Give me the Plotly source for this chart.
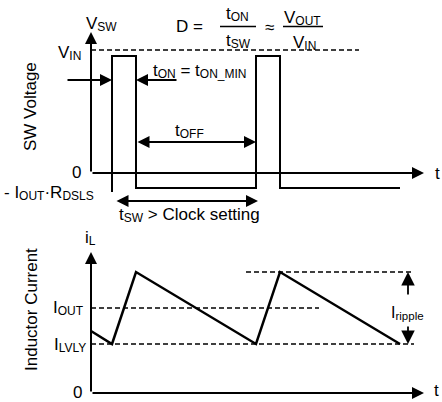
import plotly.graph_objects as go

W, H = 442, 402

# ---- data (time units: origin at the vertical axes) ----
T_AXIS_END = 333            # end of the time axes (arrow tip)
# switch-node voltage waveform (voltage units, 0 = ground)
sw_t = [21, 21, 45, 45, 165, 165, 189, 189, 309]
sw_v = [-19, 117, 117, -15, -15, 117, 117, -15, -15]
V_IN = 123
V_AXIS_TOP = 141
# inductor current waveform (current units, 0 = zero current)
il_t = [0, 21, 45, 165, 189, 309]
il_i = [62, 49, 121, 49, 121, 49]
I_OUT = 85
I_LVLY = 49
I_PEAK = 121
I_AXIS_TOP = 141
# extents of the dashed reference lines (time)
vin_line_t = [0, 268]
iout_line_t = [0, 228]
ilvly_line_t = [0, 323]
ipeak_line_t = [155, 320]
# dimension arrows
t_on_left_t = [-25, 21]      # tail, tip
t_on_right_t = [87, 45]      # tail, tip
t_on_level = 93
t_off_t = [45, 165]
t_off_level = 31
t_sw_t = [24, 167]
t_sw_level = -28
ripple_t = 317
ripple_top = [97, 121]       # tail, tip
ripple_bot = [68, 49]        # tail, tip

# pixel helpers for text placement
X0, Y0V, Y0I = 91, 173, 393
def tx(px):
    return px - X0
def vy(py):
    return Y0V - py

FONT = "Liberation Sans, Arial, sans-serif"
BLACK = "#000000"
FS = 17

def sub(s, size=12):
    return f'<span style="font-size:{size}px;baseline-shift:-2px">{s}</span>'

fig = go.Figure()

DASH = dict(color=BLACK, width=1.4, dash="5px,3px")

# voltage panel
fig.add_trace(go.Scatter(x=sw_t, y=sw_v, mode="lines",
                         line=dict(color=BLACK, width=2), yaxis="y"))
fig.add_trace(go.Scatter(x=vin_line_t, y=[V_IN, V_IN], mode="lines",
                         line=DASH, yaxis="y"))
# current panel
fig.add_trace(go.Scatter(x=il_t, y=il_i, mode="lines",
                         line=dict(color=BLACK, width=2.5), yaxis="y2"))
for xs, lvl in [(iout_line_t, I_OUT), (ilvly_line_t, I_LVLY), (ipeak_line_t, I_PEAK)]:
    fig.add_trace(go.Scatter(x=xs, y=[lvl, lvl], mode="lines",
                             line=DASH, yaxis="y2"))

annotations = []

def arrow(x, y, ax, ay, yref="y", both=False, width=2, size=1.2):
    a = dict(x=x, y=y, ax=ax, ay=ay, xref="x", yref=yref, axref="x", ayref=yref,
             text="", showarrow=True, arrowhead=2, arrowsize=size, arrowwidth=width,
             arrowcolor=BLACK, standoff=0)
    if both:
        a.update(arrowside="end+start", startarrowhead=2, startarrowsize=size, startstandoff=0)
    annotations.append(a)

# axes with arrows
arrow(0, V_AXIS_TOP, 0, 0, "y")
arrow(T_AXIS_END, 0, 0, 0, "y")
arrow(0, I_AXIS_TOP, 0, 0, "y2")
arrow(T_AXIS_END, 0, 0, 0, "y2")
# t_on arrows
arrow(t_on_left_t[1], t_on_level, t_on_left_t[0], t_on_level, "y")
arrow(t_on_right_t[1], t_on_level, t_on_right_t[0], t_on_level, "y")
# t_off, t_sw double arrows
arrow(t_off_t[1], t_off_level, t_off_t[0], t_off_level, "y", both=True)
arrow(t_sw_t[1], t_sw_level, t_sw_t[0], t_sw_level, "y", both=True)
# ripple arrows
arrow(ripple_t, ripple_top[1], ripple_t, ripple_top[0], "y2", width=1.8, size=1.5)
arrow(ripple_t, ripple_bot[1], ripple_t, ripple_bot[0], "y2", width=1.8, size=1.5)

def lab(text, px, py, xanchor="center", size=FS, angle=0):
    annotations.append(dict(x=tx(px), y=vy(py), xref="x", yref="y", text=text,
                            showarrow=False, xanchor=xanchor, yanchor="middle",
                            textangle=angle, font=dict(family=FONT, size=size, color=BLACK)))

lab("V" + sub("SW"), 84, 24, "left")
lab("V" + sub("IN"), 83, 53, "right")
lab("D =", 189, 26)
lab("t" + sub("ON"), 237, 14)
lab("t" + sub("SW"), 238, 41)
lab("≈", 269, 27)
lab("V" + sub("OUT"), 302, 18)
lab("V" + sub("IN"), 304, 43)
lab("t" + sub("ON") + " = t" + sub("ON_MIN"), 151, 71, "left")
lab("t" + sub("OFF"), 189, 131)
lab("0", 76, 172)
lab("t", 437, 173)
lab("- I" + sub("OUT") + "·R" + sub("DSLS"), 2, 193, "left")
lab("t" + sub("SW") + " &gt; Clock setting", 189, 215)
lab("SW Voltage", 30, 107, angle=-90)
lab("i" + sub("L"), 83, 238, "left")
lab("I" + sub("OUT"), 86, 308, "right")
lab("I" + sub("LVLY"), 88, 345, "right")
lab("I" + sub("ripple", 11.5), 407, 313, size=16)
lab("0", 77, 392)
lab("t", 436, 390)
lab("Inductor Current", 31, 310, angle=-90)

shapes = [
    dict(type="line", xref="x", yref="y", x0=tx(220), x1=tx(256), y0=vy(26.5), y1=vy(26.5),
         line=dict(color=BLACK, width=1.5)),
    dict(type="line", xref="x", yref="y", x0=tx(283), x1=tx(323), y0=vy(26.5), y1=vy(26.5),
         line=dict(color=BLACK, width=1.5)),
]

fig.update_layout(
    width=W, height=H, autosize=False,
    margin=dict(l=0, r=0, t=0, b=0),
    paper_bgcolor="white", plot_bgcolor="white",
    showlegend=False,
    xaxis=dict(range=[-X0, W - X0], visible=False, fixedrange=True),
    yaxis=dict(range=[Y0V - H, Y0V], visible=False, fixedrange=True),
    yaxis2=dict(range=[Y0I - H, Y0I], visible=False, overlaying="y", fixedrange=True),
    annotations=annotations,
    shapes=shapes,
)

fig.write_html("out.html", config={"displayModeBar": False},
               post_script="document.body.style.margin='0';document.body.style.overflow='hidden';")
